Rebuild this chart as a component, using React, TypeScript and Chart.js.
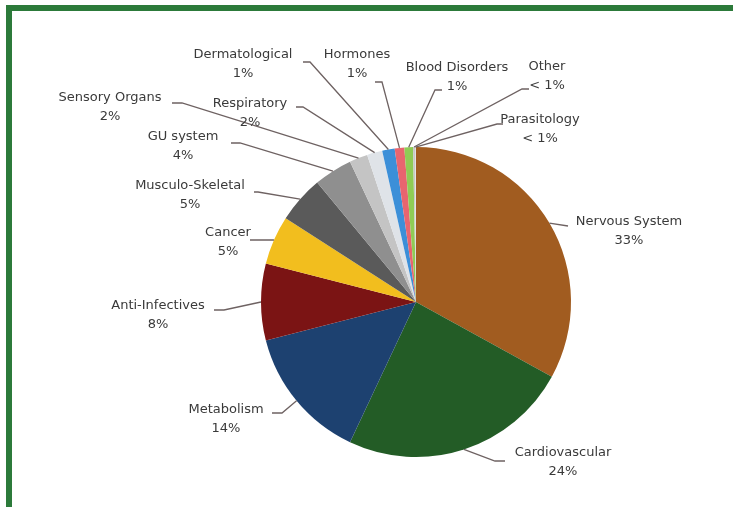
import React, { useEffect, useRef } from "react";
import { Chart, registerables } from "chart.js";

Chart.register(...registerables);

const categories = [
  "Nervous System",
  "Cardiovascular",
  "Metabolism",
  "Anti-Infectives",
  "Cancer",
  "Musculo-Skeletal",
  "GU system",
  "Sensory Organs",
  "Respiratory",
  "Dermatological",
  "Hormones",
  "Blood Disorders",
  "Other",
  "Parasitology",
];

const shares = [33.0, 24.0, 14.0, 8.0, 5.1, 4.9, 4.0, 1.9, 1.6, 1.3, 1.0, 0.9, 0.2, 0.1];

const percentLabels = ["33%", "24%", "14%", "8%", "5%", "5%", "4%", "2%", "2%", "1%", "1%", "1%", "< 1%", "< 1%"];

const sliceColors = [
  "#a15c20",
  "#235c26",
  "#1d4170",
  "#7b1414",
  "#f2be1e",
  "#5a5a5a",
  "#8f8f8f",
  "#c4c4c4",
  "#dfe3e8",
  "#3c8fd8",
  "#e8656f",
  "#8fcc55",
  "#c8c8c8",
  "#e0e0e0",
];

// label layout, offsets from pie centre (px):
// [textX, textY, anchorX, anchorY, elbowLength(+ right / - left)]
const labelLayout: number[][] = [
  [213, -80, 152, -76, 0],
  [147, 151, 79, 159, 10],
  [-190, 108, -134, 111, -10],
  [-258, 4, -192, 8, -10],
  [-188, -69, -158, -62, -8],
  [-226, -116, -158, -110, -4],
  [-233, -165, -176, -159, -9],
  [-306, -204, -234, -199, -10],
  [-166, -198, -113, -195, -7],
  [-173, -247, -106, -240, -7],
  [-59, -247, -34, -220, -7],
  [41, -234, 19, -212, 7],
  [131, -235, 106, -213, 7],
  [124, -182, 81, -178, 6],
];

const leaderPlugin = {
  id: "leaders",
  afterDatasetsDraw(chart: any) {
    const ctx = chart.ctx;
    const meta = chart.getDatasetMeta(0);
    ctx.save();
    meta.data.forEach((arc: any, i: number) => {
      const p = arc.getProps(["x", "y", "startAngle", "endAngle", "outerRadius"], true);
      const mid = (p.startAngle + p.endAngle) / 2;
      const sx = p.x + Math.cos(mid) * p.outerRadius;
      const sy = p.y + Math.sin(mid) * p.outerRadius;
      const [tx, ty, ax, ay, el] = labelLayout[i];
      ctx.strokeStyle = "#6e6262";
      ctx.lineWidth = 1.3;
      ctx.beginPath();
      ctx.moveTo(sx, sy);
      ctx.lineTo(p.x + ax, p.y + ay);
      if (el !== 0) ctx.lineTo(p.x + ax + el, p.y + ay);
      ctx.stroke();
      ctx.fillStyle = "#3a3a3a";
      ctx.font = "13px 'DejaVu Sans'";
      ctx.textAlign = "center";
      ctx.textBaseline = "middle";
      ctx.fillText(categories[i], p.x + tx, p.y + ty);
      ctx.fillText(percentLabels[i], p.x + tx, p.y + ty + 19);
    });
    ctx.restore();
  },
};

export default function App() {
  const ref = useRef<HTMLCanvasElement | null>(null);
  useEffect(() => {
    if (!ref.current) return;
    const chart = new Chart(ref.current, {
      type: "pie",
      data: {
        labels: categories,
        datasets: [
          {
            data: shares,
            backgroundColor: sliceColors,
            borderWidth: 0,
          },
        ],
      },
      options: {
        animation: false,
        responsive: false,
        devicePixelRatio: 1,
        layout: { padding: { top: 147, bottom: 50, left: 261, right: 162 } },
        plugins: { legend: { display: false }, tooltip: { enabled: false } },
      },
      plugins: [leaderPlugin],
    });
    return () => chart.destroy();
  }, []);
  return (
    <div style={{ position: "fixed", left: 0, top: 0, width: 733, height: 507, background: "#ffffff", overflow: "hidden" }}>
      <div
        style={{
          position: "absolute",
          left: 6,
          top: 5,
          width: 760,
          height: 540,
          borderTop: "6px solid #2c7a3a",
          borderLeft: "6px solid #2c7a3a",
        }}
      />
      <canvas ref={ref} width={733} height={507} style={{ position: "absolute", left: 0, top: 0 }} />
    </div>
  );
}
